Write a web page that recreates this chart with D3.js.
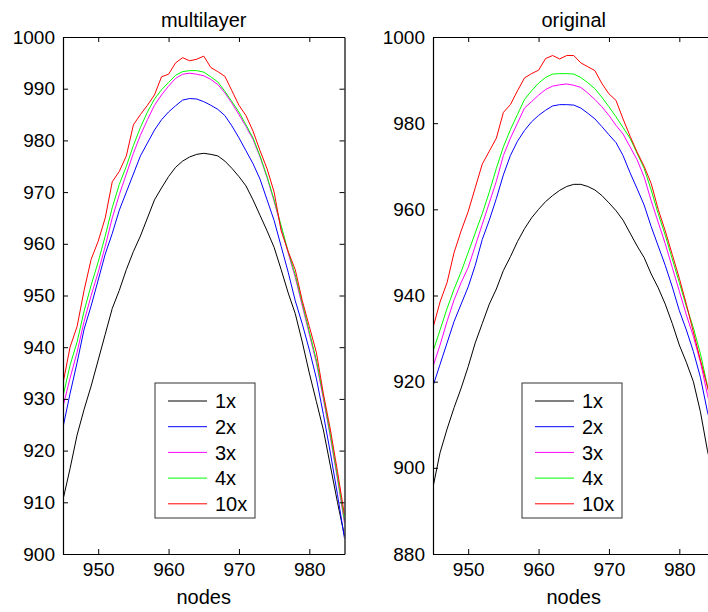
<!DOCTYPE html>
<html>
<head>
<meta charset="utf-8">
<script src="https://cdn.jsdelivr.net/npm/d3@7"></script>
<style>
  html, body { margin: 0; padding: 0; background: #fff; overflow: hidden; }
  svg { display: block; font-family: "Liberation Sans", Arial, Helvetica, sans-serif; }
</style>
</head>
<body>
<svg id="chart" width="708" height="612"></svg>
<script>
// ---- data ----
const nodes = [945,946,947,948,949,950,951,952,953,954,955,956,957,958,959,960,961,962,963,964,965,
               966,967,968,969,970,971,972,973,974,975,976,977,978,979,980,981,982,983,984,985];
const seriesNames = ["1x", "2x", "3x", "4x", "10x"];
const seriesColors = ["#000000", "#0000ff", "#ff00ff", "#00ff00", "#ff0000"];

const multilayer1x = [910.5,916.5,923,928,932.5,937.5,942.5,947.5,951,955,958.5,961.5,965,968.5,970.8,973,974.8,976,976.8,977.3,977.5,
                      977.3,977,976,974.6,973,971.2,968.5,965.5,962.5,959.3,955,950.5,946.5,941,935,929.5,924,917,910,903.5];
const multilayer2x = [924.5,931,937,943.5,948,953,958,962,966.5,970,973.5,977,979.5,982,984,985.5,986.7,987.8,988.1,988,987.5,
                      986.8,986,984.8,982.8,980.5,978,975.5,972.5,968.5,964.5,959.5,954.5,949,944.5,939.5,934,927,919.5,911.5,903];
const multilayer3x = [928.5,934,939,945,950,954.5,959.5,965,969.5,973.5,977.5,981,984,986.8,988.8,990.5,992,992.8,993,992.8,992.5,
                      991.8,990.8,989.2,987.2,985,982.7,980.2,976.8,972.8,968.2,963.2,958.2,953.5,948,942.5,937,930,922.5,914.5,906];
const multilayer4x = [930.5,936.5,941,947,952,956.5,961.5,967,971.5,975,979,982.5,985.5,988,989.8,991.2,992.6,993.3,993.5,993.5,993.2,
                      992.3,991.3,989.5,987.5,985.5,983,980.5,977,973,968.5,963.5,958.5,954,948.5,943,937.5,930.5,923,915,906.5];
const multilayer10x = [933,940,944,951,957,960.5,965,972,974,977,983,985,986.8,988.8,992.3,992.8,995,996,995.4,995.7,996.3,
                       994.1,993.3,992.4,989.6,986.8,984.8,981.8,978,974.5,970,962.5,958.5,955,949,944,939,931,924,916,907.5];

const original1x = [895.5,903.5,909,914,918.5,923.5,929,933.5,938,941.5,945.8,949,952.5,955.5,958,960,961.8,963.2,964.4,965.3,965.8,
                    965.8,965.3,964.5,963.2,961.5,959.7,957.5,954.5,951.5,948.8,945,941.8,938,933.5,928.5,924.5,920,913,904,897];
const original2x = [919,924,929,934,938,942,947,953,957.5,962.5,968,972.5,975.8,978.3,980.3,981.8,983,984,984.3,984.3,984.2,
                    983.5,982.3,981,979.2,977.3,975.5,972.5,968.5,964.8,961,956,951.5,947,942,936.5,932,927,921,913,907];
const original3x = [923.5,928.5,934,939,943,946.5,951.5,956.5,961.5,966.5,972.5,976.5,980,983.5,985,986.5,987.8,988.6,988.9,989.1,988.8,
                    988.3,987,985.5,983.8,981.8,979.5,977.5,974.5,971.5,967.5,962,957,952,946.5,941,935.5,930.5,924.5,917,910];
const original4x = [927,932,937,941.5,945.5,950,954.5,959,964,969.5,974.5,978.5,982,985.5,987.5,989.3,990.6,991.4,991.5,991.5,991.4,
                    990.6,989.4,988,986,983.8,981.5,979,976.5,973,969.5,964.5,959,954,948.5,943,937.5,932.5,926.5,919,912];
const original10x = [932.5,938.5,943,950,955,959.5,965,970.5,973.5,976.5,982.5,984.3,987.5,990.5,991.5,992.3,995,995.7,994.9,995.7,995.7,
                     994,993.1,992.2,989.2,986.8,985.3,981,977,973.3,970,966,960,955,949.5,944,938,931.5,925,918.8,912];

const xTicks = [950, 960, 970, 980];
const leftYTicks = [900, 910, 920, 930, 940, 950, 960, 970, 980, 990, 1000];
const rightYTicks = [880, 900, 920, 940, 960, 980, 1000];

// ---- layout ----
const svg = d3.select("#chart");
const panels = [
  { title: "multilayer", left: 63, right: 344.5, yDomain: [900, 1000], yTicks: leftYTicks,
    series: [multilayer1x, multilayer2x, multilayer3x, multilayer4x, multilayer10x], legendX: 155 },
  { title: "original", left: 433, right: 714.5, yDomain: [880, 1000], yTicks: rightYTicks,
    series: [original1x, original2x, original3x, original4x, original10x], legendX: 522 }
];
const plotTop = 37, plotBottom = 554;

panels.forEach((p, pi) => {
  const x = d3.scaleLinear().domain([945, 985]).range([p.left, p.right]);
  const y = d3.scaleLinear().domain(p.yDomain).range([plotBottom, plotTop]);
  const g = svg.append("g");

  const clipId = "clip" + pi;
  svg.append("clipPath").attr("id", clipId).append("rect")
    .attr("x", p.left).attr("y", plotTop).attr("width", p.right - p.left).attr("height", plotBottom - plotTop);

  // lines
  const line = d3.line().x((d, i) => x(nodes[i])).y(d => y(d));
  p.series.forEach((s, si) => {
    g.append("path").datum(s)
      .attr("clip-path", `url(#${clipId})`)
      .attr("fill", "none").attr("stroke", seriesColors[si]).attr("stroke-width", 1)
      .attr("d", line);
  });

  // axes
  const styleAxis = sel => {
    sel.select(".domain").attr("stroke", "#000").attr("stroke-width", 1.2);
    sel.selectAll(".tick line").attr("stroke", "#000").attr("stroke-width", 1);
    sel.selectAll(".tick text").attr("fill", "#000").style("font-size", "19px")
      .style("font-family", '"Liberation Sans", Arial, Helvetica, sans-serif');
  };
  g.append("g").attr("transform", `translate(0,${plotBottom})`)
    .call(d3.axisBottom(x).tickValues(xTicks).tickSizeInner(-5).tickSizeOuter(0).tickPadding(9).tickFormat(d3.format("d")))
    .call(styleAxis);
  g.append("g").attr("transform", `translate(0,${plotTop})`)
    .call(d3.axisTop(x).tickValues(xTicks).tickSizeInner(-5).tickSizeOuter(0).tickFormat(""))
    .call(styleAxis);
  g.append("g").attr("transform", `translate(${p.left},0)`)
    .call(d3.axisLeft(y).tickValues(p.yTicks).tickSizeInner(-5).tickSizeOuter(0).tickPadding(8).tickFormat(d3.format("d")))
    .call(styleAxis);
  g.append("g").attr("transform", `translate(${p.right},0)`)
    .call(d3.axisRight(y).tickValues(p.yTicks).tickSizeInner(-5).tickSizeOuter(0).tickFormat(""))
    .call(styleAxis);

  // title and x label
  const cx = (p.left + p.right) / 2;
  g.append("text").attr("x", cx).attr("y", 27).attr("text-anchor", "middle")
    .style("font-size", "20px").attr("fill", "#000").text(p.title);
  g.append("text").attr("x", cx).attr("y", 604).attr("text-anchor", "middle")
    .style("font-size", "20px").attr("fill", "#000").text("nodes");

  // legend
  const lg = g.append("g").attr("transform", `translate(${p.legendX},383)`);
  lg.append("rect").attr("x", 0).attr("y", 0).attr("width", 100).attr("height", 135)
    .attr("fill", "#fff").attr("stroke", "#333").attr("stroke-width", 1);
  seriesNames.forEach((name, i) => {
    const ry = 18 + i * 25.7;
    lg.append("line").attr("x1", 13).attr("x2", 52).attr("y1", ry).attr("y2", ry)
      .attr("stroke", seriesColors[i]).attr("stroke-width", 1);
    lg.append("text").attr("x", 60).attr("y", ry).attr("dy", "0.36em")
      .style("font-size", "20px").attr("fill", "#000").text(name);
  });
});
</script>
</body>
</html>
